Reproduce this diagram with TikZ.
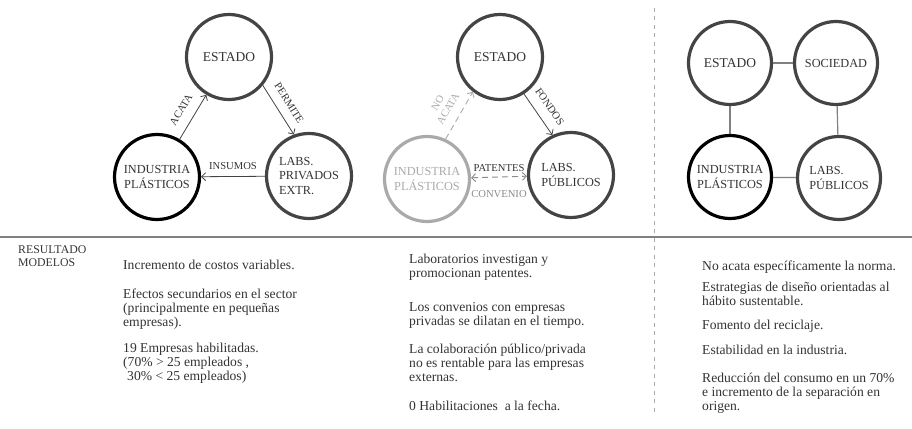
\documentclass[tikz,border=0pt]{standalone}
\usepackage{fontspec}
\setmainfont{Liberation Serif}
\usetikzlibrary{arrows.meta,positioning}

\definecolor{dgray}{HTML}{444444}
\definecolor{lgray}{HTML}{AAAAAA}
\definecolor{mgray}{HTML}{8A8A8A}
\definecolor{tgray}{HTML}{333333}

\tikzset{
  actor/.style={draw=dgray,circle,line width=3.2pt,minimum size=85pt,inner sep=0pt,
    text=tgray,font=\fontsize{12.3}{14.5}\selectfont,align=center},
  mainactor/.style={actor,draw=black},
  ghost/.style={actor,draw=lgray,text=lgray},
  bigname/.style={font=\fontsize{13.5}{14.5}\selectfont},
  rel/.style={draw=dgray,line width=0.8pt,-{Straight Barb[length=4pt,width=8pt]}},
  weakrel/.style={draw=lgray,line width=0.9pt,dash pattern=on 6pt off 4pt},
  link/.style={draw=gray,line width=1.2pt},
  lbl/.style={font=\fontsize{10.6}{12}\selectfont,text=tgray,inner sep=2pt,align=center},
  % anchored at the baseline of the last line
  res/.style={anchor=base west,align=left,inner sep=0pt,text=tgray,
    font=\fontsize{13.6}{14}\selectfont},
}

\begin{document}
\begin{tikzpicture}[x=1pt,y=-1pt]
  \useasboundingbox (0,0) rectangle (912,428);

  % modelo 1
  \node[actor,bigname] (estA) at (229,57) {ESTADO};
  \node[mainactor] (indA) at (157,177) {INDUSTRIA\\PLÁSTICOS};
  \node[actor,align=left] (labA) at (309,176) {LABS.\\PRIVADOS\\EXTR.};
  \draw[rel] (indA) -- (estA) node[lbl,midway,sloped,above=8pt]{ACATA};
  \draw[rel] (estA.-40) -- (labA.110) node[lbl,midway,sloped,above=7pt]{PERMITE};
  \draw[rel] (labA) -- (indA) node[lbl,midway,above=4pt]{INSUMOS};

  % modelo 2
  \node[actor,bigname] (estB) at (500,57) {ESTADO};
  \node[ghost] (indB) at (427,179) {INDUSTRIA\\PLÁSTICOS};
  \node[actor,align=left] (labB) at (571,175) {LABS.\\PÚBLICOS};
  \draw[weakrel,-{Straight Barb[length=4pt,width=8pt]}] (indB.65) -- (estB.-128)
    node[lbl,text=lgray,midway,sloped,above=7pt]{NO\\ACATA};
  \draw[rel] (estB.-57) -- (labB.115) node[lbl,midway,sloped,above=8pt]{FONDOS};
  \draw[weakrel,draw=mgray,{Straight Barb[length=4pt,width=8pt]}-{Straight Barb[length=4pt,width=8pt]}]
    (indB) -- (labB)
    node[lbl,midway,above=3pt]{PATENTES}
    node[lbl,text=mgray,midway,below=11pt]{CONVENIO};

  % modelo 3
  \node[actor,bigname,minimum size=83pt] (estC) at (730,63) {ESTADO};
  \node[actor,minimum size=83pt] (socC) at (836,63) {SOCIEDAD};
  \node[mainactor,minimum size=83pt] (indC) at (730,177) {INDUSTRIA\\PLÁSTICOS};
  \node[actor,minimum size=83pt,align=left] (labC) at (839,178) {LABS.\\PÚBLICOS};
  \draw[link] (estC) -- (socC);
  \draw[link] (estC) -- (indC);
  \draw[link] (socC) -- (labC);
  \draw[link] (indC) -- (labC);

  % separadores
  \draw[gray,line width=1.2pt] (0,237) -- (912,237);
  \draw[lgray,line width=1pt,dash pattern=on 4pt off 4.5pt] (654,8) -- (654,416);

  % resultados
  \node[res,font=\fontsize{11.8}{13}\selectfont] (tit) at (18,266) {RESULTADO\\MODELOS};

  \node[res] (r1a) at (123,269) {Incremento de costos variables.};
  \node[res] (r1b) at (123,326) {Efectos secundarios en el sector\\(principalmente en pequeñas\\empresas).};
  \node[res] (r1c) at (123,380) {19 Empresas habilitadas.\\(70\% > 25 empleados ,\\\hspace{4pt}30\% < 25 empleados)};

  \node[res] (r2a) at (409,277) {Laboratorios investigan y\\promocionan patentes.};
  \node[res] (r2b) at (409,325) {Los convenios con empresas\\privadas se dilatan en el tiempo.};
  \node[res] (r2c) at (409,381) {La colaboración público/privada\\no es rentable para las empresas\\externas.};
  \node[res] (r2d) at (409,410) {0 Habilitaciones\ \ a la fecha.};

  \node[res] (r3a) at (702,270) {No acata específicamente la norma.};
  \node[res] (r3b) at (702,305) {Estrategias de diseño orientadas al\\hábito sustentable.};
  \node[res] (r3c) at (702,329) {Fomento del reciclaje.};
  \node[res] (r3d) at (702,354) {Estabilidad en la industria.};
  \node[res] (r3e) at (702,410) {Reducción del consumo en un 70\%\\e incremento de la separación en\\origen.};
\end{tikzpicture}
\end{document}
